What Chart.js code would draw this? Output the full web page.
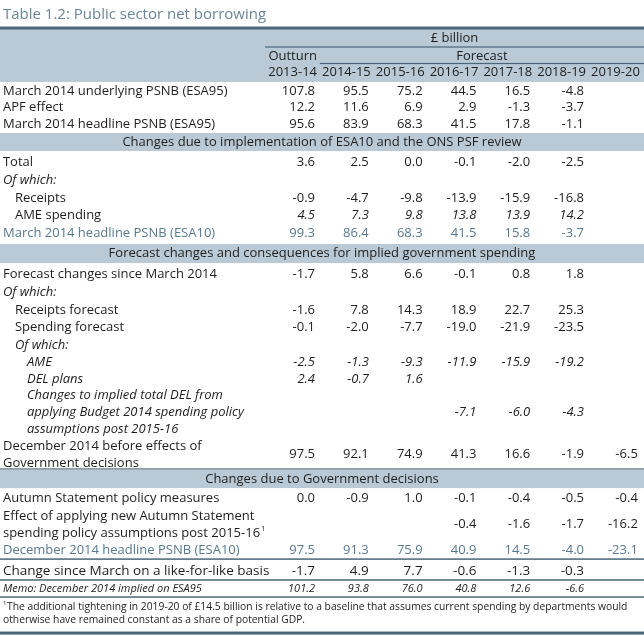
<!DOCTYPE html>
<html lang="en">
<head>
<meta charset="utf-8">
<title>Table 1.2: Public sector net borrowing</title>
<script src="https://cdn.jsdelivr.net/npm/chart.js@4.4.1/dist/chart.umd.min.js"></script>
<style>
  html, body { margin: 0; padding: 0; background: #ffffff; }
  canvas { display: block; }
</style>
</head>
<body>
<canvas id="tabela-psnb" width="644" height="636"></canvas>
<script>
// --- Dados da tabela (£ bilhões) ---
const anos = ['2013-14', '2014-15', '2015-16', '2016-17', '2017-18', '2018-19', '2019-20'];

const subjacenteEsa95 = [107.8, 95.5, 75.2, 44.5, 16.5, -4.8, null];
const efeitoApf = [12.2, 11.6, 6.9, 2.9, -1.3, -3.7, null];
const principalEsa95 = [95.6, 83.9, 68.3, 41.5, 17.8, -1.1, null];
const totalEsa10 = [3.6, 2.5, 0.0, -0.1, -2.0, -2.5, null];
const receitasEsa10 = [-0.9, -4.7, -9.8, -13.9, -15.9, -16.8, null];
const ameEsa10 = [4.5, 7.3, 9.8, 13.8, 13.9, 14.2, null];
const principalEsa10 = [99.3, 86.4, 68.3, 41.5, 15.8, -3.7, null];
const mudancasPrevisao = [-1.7, 5.8, 6.6, -0.1, 0.8, 1.8, null];
const previsaoReceitas = [-1.6, 7.8, 14.3, 18.9, 22.7, 25.3, null];
const previsaoGastos = [-0.1, -2.0, -7.7, -19.0, -21.9, -23.5, null];
const ame = [-2.5, -1.3, -9.3, -11.9, -15.9, -19.2, null];
const planosDel = [2.4, -0.7, 1.6, null, null, null, null];
const delImplicito = [null, null, null, -7.1, -6.0, -4.3, null];
const dezembroAntes = [97.5, 92.1, 74.9, 41.3, 16.6, -1.9, -6.5];
const medidasAutumn = [0.0, -0.9, 1.0, -0.1, -0.4, -0.5, -0.4];
const gastosAutumn = [null, null, null, -0.4, -1.6, -1.7, -16.2];
const principalDezembro = [97.5, 91.3, 75.9, 40.9, 14.5, -4.0, -23.1];
const mudancaDesdeMarco = [-1.7, 4.9, 7.7, -0.6, -1.3, -0.3, null];
const memoEsa95 = [101.2, 93.8, 76.0, 40.8, 12.6, -6.6, null];

// --- Cores e fontes ---
const FONTE = '"Open Sans", sans-serif';
const corTexto = '#1e1e1e';
const corAzul = '#587a90';
const corTitulo = '#6a8698';
const corFaixa = '#b9cad6';
const corLinha = '#4b6679';
const TAM = 13;

// Posições no eixo y em "unidades de linha" (0 = primeira linha de dados).
const linhasValores = [
    { y: 0, valores: subjacenteEsa95 },
    { y: 0.95, valores: efeitoApf },
    { y: 1.9, valores: principalEsa95 },
    { y: 4.08, valores: totalEsa10 },
    { y: 6.15, valores: receitasEsa10 },
    { y: 7.13, valores: ameEsa10, italico: true },
    { y: 8.16, valores: principalEsa10, cor: corAzul },
    { y: 10.52, valores: mudancasPrevisao },
    { y: 12.59, valores: previsaoReceitas },
    { y: 13.56, valores: previsaoGastos },
    { y: 15.57, valores: ame, italico: true },
    { y: 16.55, valores: planosDel, italico: true },
    { y: 18.45, valores: delImplicito, italico: true },
    { y: 20.89, valores: dezembroAntes },
    { y: 23.39, valores: medidasAutumn },
    { y: 24.92, valores: gastosAutumn },
    { y: 26.38, valores: principalDezembro, cor: corAzul },
    { y: 27.59, valores: mudancaDesdeMarco, tamanho: 13.5 },
    { y: 28.62, valores: memoEsa95, italico: true, tamanho: 11 }
];

const rotulos = [
    { y: 0, texto: 'March 2014 underlying PSNB (ESA95)' },
    { y: 0.95, texto: 'APF effect' },
    { y: 1.9, texto: 'March 2014 headline PSNB (ESA95)' },
    { y: 4.08, texto: 'Total' },
    { y: 5.11, texto: 'Of which:', italico: true },
    { y: 6.15, texto: 'Receipts', nivel: 1 },
    { y: 7.13, texto: 'AME spending', nivel: 1 },
    { y: 8.16, texto: 'March 2014 headline PSNB (ESA10)', cor: corAzul },
    { y: 10.52, texto: 'Forecast changes since March 2014' },
    { y: 11.55, texto: 'Of which:', italico: true },
    { y: 12.59, texto: 'Receipts forecast', nivel: 1 },
    { y: 13.56, texto: 'Spending forecast', nivel: 1 },
    { y: 14.6, texto: 'Of which:', italico: true, nivel: 1 },
    { y: 15.57, texto: 'AME', italico: true, nivel: 2 },
    { y: 16.55, texto: 'DEL plans', italico: true, nivel: 2 },
    { y: 17.47, texto: 'Changes to implied total DEL from', italico: true, nivel: 2 },
    { y: 18.45, texto: 'applying Budget 2014 spending policy', italico: true, nivel: 2 },
    { y: 19.43, texto: 'assumptions post 2015-16', italico: true, nivel: 2 },
    { y: 20.4, texto: 'December 2014 before effects of' },
    { y: 21.38, texto: 'Government decisions' },
    { y: 23.39, texto: 'Autumn Statement policy measures' },
    { y: 24.43, texto: 'Effect of applying new Autumn Statement' },
    { y: 25.4, texto: 'spending policy assumptions post 2015-16', sobrescrito: '1' },
    { y: 26.38, texto: 'December 2014 headline PSNB (ESA10)', cor: corAzul },
    { y: 27.59, texto: 'Change since March on a like-for-like basis', tamanho: 13.5 },
    { y: 28.62, texto: 'Memo: December 2014 implied on ESA95', italico: true, tamanho: 11 },
    { y: 29.66, texto: 'The additional tightening in 2019-20 of £14.5 billion is relative to a baseline that assumes current spending by departments would', tamanho: 10.3, prefixo: '1' },
    { y: 30.4, texto: 'otherwise have remained constant as a share of potential GDP.', tamanho: 10.3 }
];

// Faixas de seção (de/até no eixo y)
const faixas = [
    { de: 2.41, ate: 3.45, texto: 'Changes due to implementation of ESA10 and the ONS PSF review' },
    { de: 8.79, ate: 9.89, texto: 'Forecast changes and consequences for implied government spending' },
    { de: 21.78, ate: 22.82, texto: 'Changes due to Government decisions', linhaTopo: 21.72 }
];

// Linhas horizontais: y, início no eixo x (ausente = borda esquerda), espessura
const linhasHorizontais = [
    { y: -3.62, espessura: 3 },
    { y: -2.53, inicio: -0.93, espessura: 1.2 },
    { y: -1.58, inicio: 0.09, espessura: 1.2 },
    { y: 26.9, espessura: 1.5 },
    { y: 28.1, espessura: 1.5 },
    { y: 29.08, espessura: 1.5 },
    { y: 31.15, espessura: 3 }
];

const X_ROTULO = -5.8;

function fonte(tamanho, italico) {
    return `${italico ? 'italic ' : ''}${tamanho}px ${FONTE}`;
}

const pluginTabela = {
    id: 'tabela',
    beforeDatasetsDraw(chart) {
        const { ctx, chartArea, scales: { x, y } } = chart;
        ctx.save();
        ctx.fillStyle = '#ffffff';
        ctx.fillRect(0, 0, chart.width, chart.height);

        // Faixa do cabeçalho
        ctx.fillStyle = corFaixa;
        const topoCab = y.getPixelForValue(-3.62);
        ctx.fillRect(chartArea.left, topoCab, chartArea.width, y.getPixelForValue(-0.52) - topoCab);

        // Faixas de seção
        for (const f of faixas) {
            const t = y.getPixelForValue(f.de);
            ctx.fillStyle = corFaixa;
            ctx.fillRect(chartArea.left, t, chartArea.width, y.getPixelForValue(f.ate) - t);
            if (f.linhaTopo !== undefined) {
                ctx.fillStyle = corLinha;
                ctx.fillRect(chartArea.left, y.getPixelForValue(f.linhaTopo) - 0.6, chartArea.width, 1.2);
            }
        }

        // Linhas horizontais
        ctx.fillStyle = corLinha;
        for (const l of linhasHorizontais) {
            const x0 = l.inicio === undefined ? chartArea.left : x.getPixelForValue(l.inicio);
            const py = y.getPixelForValue(l.y);
            ctx.fillRect(x0, py - l.espessura / 2, chartArea.right - x0, l.espessura);
        }
        ctx.restore();
    },
    afterDatasetsDraw(chart) {
        const { ctx, chartArea, scales: { x, y } } = chart;
        ctx.save();
        ctx.textBaseline = 'middle';

        // Título
        ctx.fillStyle = corTitulo;
        ctx.font = fonte(15, false);
        ctx.textAlign = 'left';
        ctx.fillText('Table 1.2: Public sector net borrowing', x.getPixelForValue(X_ROTULO), y.getPixelForValue(-4.37));

        // Cabeçalho
        ctx.fillStyle = corTexto;
        ctx.font = fonte(TAM, false);
        ctx.textAlign = 'center';
        ctx.fillText('£ billion', (x.getPixelForValue(-0.93) + chartArea.right) / 2, y.getPixelForValue(-3.05));
        ctx.fillText('Forecast', (x.getPixelForValue(0.09) + chartArea.right) / 2, y.getPixelForValue(-2.01));
        ctx.textAlign = 'right';
        ctx.fillText('Outturn', x.getPixelForValue(0) + 2, y.getPixelForValue(-2.01));
        anos.forEach((ano, i) => {
            ctx.fillText(ano, x.getPixelForValue(i) + 2, y.getPixelForValue(-1.09));
        });

        // Títulos das faixas
        ctx.textAlign = 'center';
        for (const f of faixas) {
            ctx.fillText(f.texto, (chartArea.left + chartArea.right) / 2, y.getPixelForValue((f.de + f.ate) / 2));
        }

        // Rótulos das linhas
        ctx.textAlign = 'left';
        for (const r of rotulos) {
            const tam = r.tamanho || TAM;
            let px = x.getPixelForValue(X_ROTULO) + (r.nivel || 0) * 12;
            const py = y.getPixelForValue(r.y);
            ctx.fillStyle = r.cor || corTexto;
            if (r.prefixo) {
                ctx.font = fonte(tam * 0.6, false);
                ctx.fillText(r.prefixo, px, py - tam * 0.35);
                px += ctx.measureText(r.prefixo).width + 0.5;
            }
            ctx.font = fonte(tam, r.italico);
            ctx.fillText(r.texto, px, py);
            if (r.sobrescrito) {
                const w = ctx.measureText(r.texto).width;
                ctx.font = fonte(tam * 0.6, false);
                ctx.fillText(r.sobrescrito, px + w + 1, py - tam * 0.35);
            }
        }

        // Valores: posicionados pelos elementos do próprio Chart.js
        ctx.textAlign = 'right';
        chart.data.datasets.forEach((ds, di) => {
            const meta = chart.getDatasetMeta(di);
            ctx.fillStyle = ds.corTexto || corTexto;
            ctx.font = fonte(ds.tamanhoTexto || TAM, ds.italico);
            meta.data.forEach((el, j) => {
                const v = ds.data[j].v;
                ctx.fillText(v.toFixed(1), el.x, el.y);
            });
        });
        ctx.restore();
    }
};

// Monta um dataset por linha de valores
const datasets = linhasValores.map(linha => ({
    data: linha.valores
        .map((v, i) => ({ x: i, y: linha.y, v }))
        .filter(p => p.v !== null),
    pointRadius: 0,
    pointHoverRadius: 0,
    showLine: false,
    italico: !!linha.italico,
    corTexto: linha.cor,
    tamanhoTexto: linha.tamanho
}));

new Chart(document.getElementById('tabela-psnb'), {
    type: 'scatter',
    data: { datasets },
    options: {
        responsive: false,
        animation: false,
        devicePixelRatio: 1,
        events: [],
        layout: { padding: 0 },
        plugins: {
            legend: { display: false },
            tooltip: { enabled: false }
        },
        scales: {
            x: { type: 'linear', min: -5.855, max: 6.115, display: false },
            y: { type: 'linear', min: -5.23, max: 31.32, reverse: true, display: false }
        }
    },
    plugins: [pluginTabela]
});
</script>
</body>
</html>
